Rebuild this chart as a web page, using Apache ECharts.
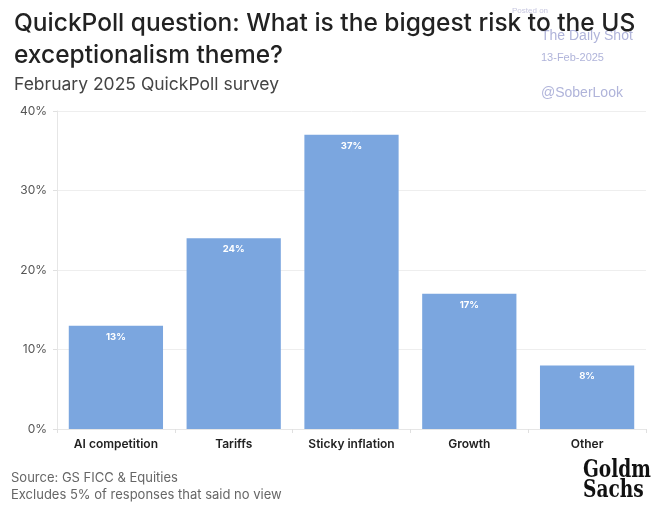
<!DOCTYPE html>
<html><head><meta charset="utf-8">
<script src="https://cdn.jsdelivr.net/npm/echarts@6/dist/echarts.min.js"></script>
<style>html,body{margin:0;padding:0;background:#fff}#c{width:651px;height:505px}</style>
</head><body><div id="c"></div>
<script>
var categories = ["AI competition", "Tariffs", "Sticky inflation", "Growth", "Other"];
var values = [13, 24, 37, 17, 8];
var yTicks = [0, 10, 20, 30, 40];

var chart = echarts.init(document.getElementById('c'), null, {renderer: 'canvas'});
chart.setOption({
  animation: false,
  backgroundColor: '#ffffff',
  textStyle: {fontFamily: 'Inter, "Noto Sans", sans-serif'},
  title: [
    {text: 'QuickPoll question: What is the biggest risk to the US\nexceptionalism theme?', left: 9, top: 3,
     textStyle: {fontSize: 24.5, fontWeight: 500, color: '#222', lineHeight: 32, fontFamily: 'Inter, sans-serif'}},
    {text: 'February 2025 QuickPoll survey', left: 9, top: 71,
     textStyle: {fontSize: 17.5, fontWeight: 400, color: '#444', fontFamily: 'Inter, sans-serif'}}
  ],
  graphic: [
    {type: 'text', left: 512, top: 7, z: -1, style: {text: 'Posted on', fontSize: 8, fill: '#c8c8e0', fontFamily: 'Liberation Sans, sans-serif'}},
    {type: 'text', left: 541, top: 29, style: {text: 'The Daily Shot', fontSize: 14, fill: '#b0b4da', fontFamily: 'Liberation Sans, sans-serif'}},
    {type: 'text', left: 541, top: 52, style: {text: '13-Feb-2025', fontSize: 11, fill: '#b0b4da', fontFamily: 'Liberation Sans, sans-serif'}},
    {type: 'text', left: 541, top: 86, style: {text: '@SoberLook', fontSize: 14, fill: '#b0b4da', fontFamily: 'Liberation Sans, sans-serif'}},
    {type: 'text', left: 11, top: 472, style: {text: 'Source: GS FICC & Equities', fontSize: 13, fill: '#666', fontFamily: 'Inter, sans-serif'}},
    {type: 'text', left: 11, top: 489, style: {text: 'Excludes 5% of responses that said no view', fontSize: 13, fill: '#666', fontFamily: 'Inter, sans-serif'}},
    {type: 'text', x: 583, y: 461, scaleX: 0.86, style: {text: 'Goldman\nSachs', fontSize: 24, lineHeight: 20, fontWeight: 'bold', fill: '#111', fontFamily: '"DejaVu Serif Condensed", "DejaVu Serif", "Liberation Serif", serif'}}
  ],
  grid: {left: 57, right: 5, top: 111, bottom: 76, containLabel: false},
  xAxis: {
    type: 'category', data: categories,
    axisLine: {show: true, lineStyle: {color: '#e6e6e6'}},
    axisTick: {show: true, alignWithLabel: false, length: 4, lineStyle: {color: '#e0e0e0'}},
    axisLabel: {color: '#222', fontSize: 12, fontWeight: 600, margin: 9}
  },
  yAxis: {
    type: 'value', min: yTicks[0], max: yTicks[yTicks.length - 1], interval: 10,
    axisLine: {show: true, lineStyle: {color: '#e6e6e6'}},
    axisTick: {show: true, length: 4, lineStyle: {color: '#e0e0e0'}},
    splitLine: {show: true, lineStyle: {color: '#eeeeee'}},
    axisLabel: {color: '#555', fontSize: 12, margin: 10, formatter: '{value}%'}
  },
  series: [{
    type: 'bar', data: values, barCategoryGap: '20%',
    itemStyle: {color: '#7ba6df'},
    label: {show: true, position: 'insideTop', distance: 6, formatter: '{c}%', color: '#fff', fontSize: 9.5, fontWeight: 'bold'}
  }]
});
</script></body></html>
